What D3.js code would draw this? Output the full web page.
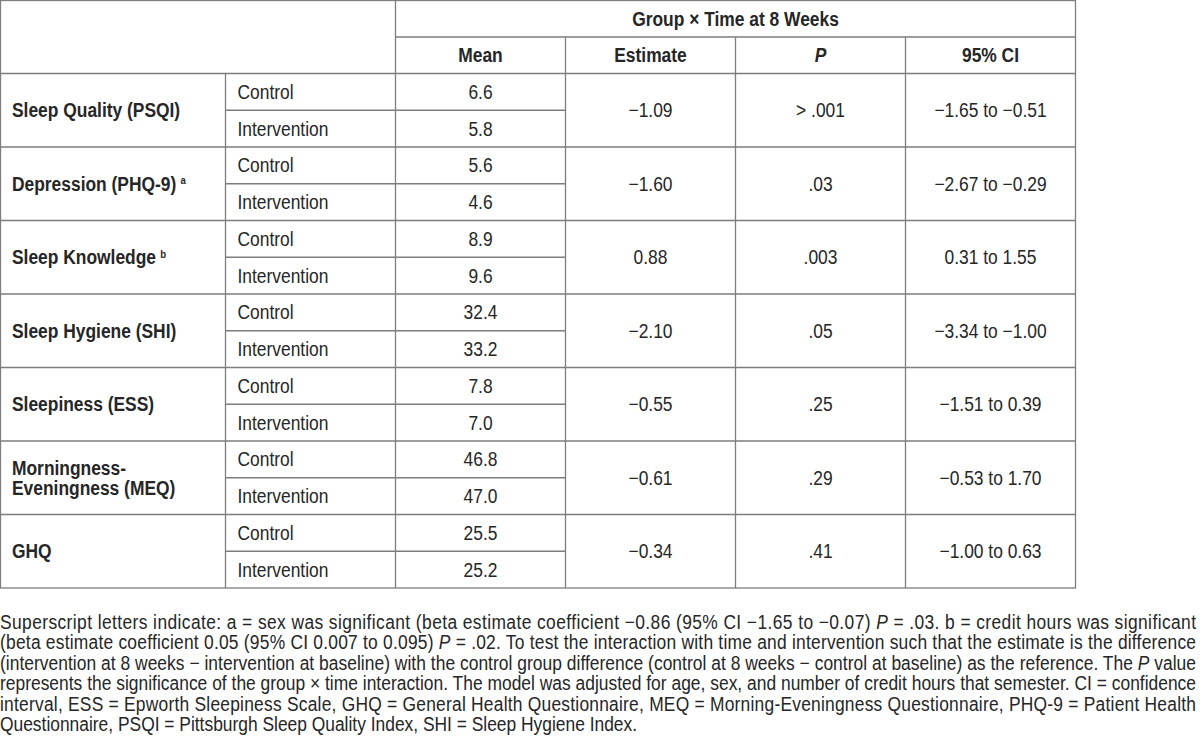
<!DOCTYPE html>
<html>
<head>
<meta charset="utf-8">
<script src="https://cdn.jsdelivr.net/npm/d3@7"></script>
<style>
  body { margin: 0; background: #fff; }
  svg { display: block; }
  text { font-family: "Liberation Sans Narrow", "Arial Narrow", "Liberation Sans", Arial, sans-serif; fill: #262626; }
</style>
</head>
<body>
<svg id="chart" width="1200" height="752"></svg>
<script>
var measures = ["Sleep Quality (PSQI)", "Depression (PHQ-9)", "Sleep Knowledge", "Sleep Hygiene (SHI)",
                "Sleepiness (ESS)", "Morningness-\nEveningness (MEQ)", "GHQ"];
var measureNotes = ["", "a", "b", "", "", "", ""];
var groups = ["Control", "Intervention"];
var controlMeans = [6.6, 5.6, 8.9, 32.4, 7.8, 46.8, 25.5];
var interventionMeans = [5.8, 4.6, 9.6, 33.2, 7.0, 47.0, 25.2];
var estimates = [-1.09, -1.60, 0.88, -2.10, -0.55, -0.61, -0.34];
var pLabels = ["> .001", ".03", ".003", ".05", ".25", ".29", ".41"];
var ciLow = [-1.65, -2.67, 0.31, -3.34, -1.51, -0.53, -1.00];
var ciHigh = [-0.51, -0.29, 1.55, -1.00, 0.39, 1.70, 0.63];
var spanLabel = "Group \u00d7 Time at 8 Weeks";
var columnLabels = ["Mean", "Estimate", "P", "95% CI"];
var footnoteLines = [
	"Superscript letters indicate: a = sex was significant (beta estimate coefficient \u22120.86 (95% CI \u22121.65 to \u22120.07) *P* = .03. b = credit hours was significant",
	"(beta estimate coefficient 0.05 (95% CI 0.007 to 0.095) *P* = .02. To test the interaction with time and intervention such that the estimate is the difference",
	"(intervention at 8 weeks \u2212 intervention at baseline) with the control group difference (control at 8 weeks \u2212 control at baseline) as the reference. The *P* value",
	"represents the significance of the group \u00d7 time interaction. The model was adjusted for age, sex, and number of credit hours that semester. CI = confidence",
	"interval, ESS = Epworth Sleepiness Scale, GHQ = General Health Questionnaire, MEQ = Morning-Eveningness Questionnaire, PHQ-9 = Patient Health",
	"Questionnaire, PSQI = Pittsburgh Sleep Quality Index, SHI = Sleep Hygiene Index."
];

var svg = d3.select("#chart"),
	fmt1 = d3.format(".1f"),
	fmt2 = d3.format(".2f"),
	lineColor = "#7d7d7d",
	fontSize = 20,
	sx = 0.87; // squeeze glyphs to mimic the condensed face

var tableLeft = 0.5, tableRight = 1075.5,
	labelCol = 225.5, groupCol = 395.5,
	headTop = 0.5, headBottom = 73.5, tableBottom = 588;

// four stat columns share the space right of the group column
var x = d3.scaleBand().domain(columnLabels).range([groupCol, tableRight]);
var yHead = d3.scaleBand().domain([0, 1]).range([headTop, headBottom]);
var rowKeys = d3.range(measures.length * groups.length);
var y = d3.scaleBand().domain(rowKeys).range([headBottom, tableBottom]);
var mid = function(k) { return y(k) + y.bandwidth() / 2; };

var place = function(sel, fx, fy) {
	sel.attr("transform", function(d, i) {
		return "translate(" + fx(d, i) + "," + fy(d, i) + ") scale(" + sx + ",1)";
	});
};

var grid = svg.append("g")
	.attr("stroke", lineColor)
	.attr("stroke-width", 1.3)
	.attr("fill", "none");

grid.append("rect")
	.attr("x", tableLeft).attr("y", headTop)
	.attr("width", tableRight - tableLeft).attr("height", tableBottom - headTop);

grid.append("line")
	.attr("x1", groupCol).attr("x2", tableRight)
	.attr("y1", yHead(1)).attr("y2", yHead(1));
grid.append("line")
	.attr("x1", tableLeft).attr("x2", tableRight)
	.attr("y1", headBottom).attr("y2", headBottom);

// verticals
grid.append("line").attr("x1", labelCol).attr("x2", labelCol).attr("y1", headBottom).attr("y2", tableBottom);
grid.append("line").attr("x1", groupCol).attr("x2", groupCol).attr("y1", headTop).attr("y2", tableBottom);
grid.selectAll("line.col")
	.data(columnLabels.slice(1))
	.enter().append("line")
	.attr("class", "col")
	.attr("x1", function(d) { return x(d); }).attr("x2", function(d) { return x(d); })
	.attr("y1", yHead(1)).attr("y2", tableBottom);

// horizontal row lines
grid.selectAll("line.sub")
	.data(measures)
	.enter().append("line")
	.attr("class", "sub")
	.attr("x1", labelCol).attr("x2", x("Estimate"))
	.attr("y1", function(d, i) { return y(i * 2 + 1); })
	.attr("y2", function(d, i) { return y(i * 2 + 1); });
grid.selectAll("line.row")
	.data(measures.slice(0, -1))
	.enter().append("line")
	.attr("class", "row")
	.attr("x1", tableLeft).attr("x2", tableRight)
	.attr("y1", function(d, i) { return y(i * 2 + 2); })
	.attr("y2", function(d, i) { return y(i * 2 + 2); });

// header
var head = svg.append("g")
	.attr("font-size", fontSize)
	.attr("font-weight", "bold")
	.attr("text-anchor", "middle");

head.append("text")
	.attr("dy", "0.35em")
	.call(place, function() { return (groupCol + tableRight) / 2; },
		function() { return yHead(0) + yHead.bandwidth() / 2; })
	.text(spanLabel);

head.selectAll("text.col")
	.data(columnLabels)
	.enter().append("text")
	.attr("class", "col")
	.attr("dy", "0.35em")
	.attr("font-style", function(d) { return d === "P" ? "italic" : null; })
	.call(place, function(d) { return x(d) + x.bandwidth() / 2; },
		function() { return yHead(1) + yHead.bandwidth() / 2; })
	.text(function(d) { return d; });

// body
var body = svg.append("g").attr("font-size", fontSize);

var labels = body.selectAll("text.measure")
	.data(measures)
	.enter().append("text")
	.attr("class", "measure")
	.attr("font-weight", "bold")
	.call(place, function() { return 12; }, function(d, i) { return y(i * 2 + 1); });

labels.each(function(d, i) {
	var el = d3.select(this),
		lines = d.split("\n"),
		lineH = 20;
	lines.forEach(function(line, j) {
		el.append("tspan")
			.attr("x", 0)
			.attr("y", (j - (lines.length - 1) / 2) * lineH)
			.attr("dy", "0.35em")
			.text(line);
	});
	if (measureNotes[i]) {
		el.append("tspan")
			.attr("font-size", 11)
			.attr("dx", 5)
			.attr("dy", "-0.6em")
			.text(measureNotes[i]);
	}
});

body.selectAll("text.group")
	.data(rowKeys)
	.enter().append("text")
	.attr("class", "group")
	.attr("dy", "0.35em")
	.call(place, function() { return labelCol + 12; }, mid)
	.text(function(k) { return groups[k % 2]; });

var meanCx = x("Mean") + x.bandwidth() / 2;
body.selectAll("text.mean")
	.data(rowKeys)
	.enter().append("text")
	.attr("class", "mean")
	.attr("text-anchor", "middle")
	.attr("dy", "0.35em")
	.call(place, function() { return meanCx; }, mid)
	.text(function(k) {
		var i = Math.floor(k / 2);
		return fmt1(k % 2 ? interventionMeans[i] : controlMeans[i]);
	});

var statCols = [
	{ col: "Estimate", cls: "est", text: function(i) { return fmt2(estimates[i]); } },
	{ col: "P", cls: "p", text: function(i) { return pLabels[i]; } },
	{ col: "95% CI", cls: "ci", text: function(i) { return fmt2(ciLow[i]) + " to " + fmt2(ciHigh[i]); } }
];
statCols.forEach(function(c) {
	body.selectAll("text." + c.cls)
		.data(measures)
		.enter().append("text")
		.attr("class", c.cls)
		.attr("text-anchor", "middle")
		.attr("dy", "0.35em")
		.call(place, function() { return x(c.col) + x.bandwidth() / 2; },
			function(d, i) { return y(i * 2 + 1); })
		.text(function(d, i) { return c.text(i); });
});

// footnote, justified line by line
var note = svg.append("g").attr("font-size", fontSize);
var noteTop = 629, noteLineH = 20.4, noteWidth = 1196;

footnoteLines.forEach(function(line, li) {
	var t = note.append("text")
		.attr("transform", "translate(0," + (noteTop + li * noteLineH) + ") scale(" + sx + ",1)");
	if (li < footnoteLines.length - 1) {
		t.attr("textLength", noteWidth / sx).attr("lengthAdjust", "spacing");
	}
	line.split("*").forEach(function(part, pi) {
		t.append("tspan")
			.attr("font-style", pi % 2 ? "italic" : null)
			.text(part);
	});
});
</script>
</body>
</html>
